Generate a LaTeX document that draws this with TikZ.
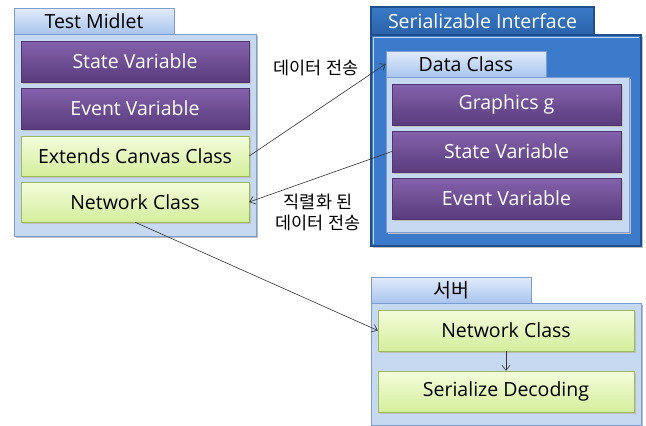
\documentclass[tikz,border=0pt]{standalone}
\usepackage{fontspec}
\setmainfont{Open Sans}
\newfontfamily\kr{Noto Sans CJK KR}
\usetikzlibrary{arrows.meta}
\definecolor{purpT}{HTML}{8462AC}
\definecolor{purpB}{HTML}{5A3B7C}
\definecolor{purpE}{HTML}{4E3470}
\definecolor{grnT}{HTML}{F4FCDC}
\definecolor{grnB}{HTML}{D4EE9C}
\definecolor{grnE}{HTML}{9CBB5C}
\definecolor{lbF}{HTML}{C6D9F1}
\definecolor{lbE}{HTML}{7C9DD0}
\definecolor{tabT}{HTML}{E2EBFA}
\definecolor{tabB}{HTML}{A9C5EE}
\definecolor{dbF}{HTML}{3C7BCB}
\definecolor{dbE}{HTML}{1F4E8C}
\definecolor{dtabT}{HTML}{3A7AC6}
\definecolor{dtabB}{HTML}{2A62AA}
\tikzset{
  x=1pt,y=-1pt,
  shadowed/.style={preaction={fill=black!25,transform canvas={xshift=1.5pt,yshift=-1.5pt}}},
  purplebox/.style={rectangle,shadowed,top color=purpT,bottom color=purpB,draw=purpE,line width=0.4pt,
    text=white,font=\fontsize{19.5}{22}\selectfont,inner sep=0pt},
  greenbox/.style={rectangle,shadowed,top color=grnT,bottom color=grnB,draw=grnE,line width=0.4pt,
    text=black,font=\fontsize{19.5}{22}\selectfont,inner sep=0pt},
  lightpanel/.style={rectangle,shadowed,fill=lbF,draw=lbE,line width=0.8pt,inner sep=0pt},
  lighttab/.style={rectangle,top color=tabT,bottom color=tabB,draw=lbE,line width=0.8pt,inner sep=0pt,
    text=black,font=\fontsize{19.5}{22}\selectfont},
  darkpanel/.style={rectangle,shadowed,fill=dbF,draw=dbE,line width=1.2pt,inner sep=0pt},
  darktab/.style={rectangle,top color=dtabT,bottom color=dtabB,draw=dbE,line width=1.2pt,inner sep=0pt,
    text=white,font=\fontsize{19.5}{22}\selectfont},
  conn/.style={draw=black!80,line width=0.6pt,-{Straight Barb[length=5pt,width=8pt]}},
  lbl/.style={font=\kr\fontsize{17.5}{21}\selectfont,align=center,inner sep=0pt}
}
\begin{document}
\begin{tikzpicture}
\useasboundingbox (0,0) rectangle (646,426);
% Test Midlet
\node[lightpanel,minimum width=242pt,minimum height=202pt] (tmp) at (135,135) {};
\node[lighttab,minimum width=160pt,minimum height=26pt] (tmt) at (94,21) {Test Midlet};
\node[purplebox,minimum width=228pt,minimum height=41pt] (tsv) at (135,61.5) {State Variable};
\node[purplebox,minimum width=228pt,minimum height=41pt] (tev) at (135,108.5) {Event Variable};
\node[greenbox,minimum width=228pt,minimum height=40pt] (tec) at (135,156) {Extends Canvas Class};
\node[greenbox,minimum width=228pt,minimum height=40pt] (tnc) at (135,202) {Network Class};
% Serializable Interface
\node[darkpanel,minimum width=270pt,minimum height=211pt] (sip) at (506,140.5) {};
\draw[white!70!dbF,line width=0.8pt] (373,244) -- (373,37) -- (639,37);
\node[darktab,minimum width=223pt,minimum height=28pt] (sit) at (482.5,21) {Serializable Interface};
\node[lightpanel,minimum width=243pt,minimum height=155pt] (dcp) at (507.5,154.5) {};
\node[lighttab,minimum width=160pt,minimum height=26pt] (dct) at (466,64) {Data Class};
\node[purplebox,minimum width=229pt,minimum height=41pt] (dgg) at (506.5,104.5) {Graphics g};
\node[purplebox,minimum width=229pt,minimum height=41pt] (dsv) at (506.5,151.5) {State Variable};
\node[purplebox,minimum width=229pt,minimum height=41pt] (dev) at (506.5,198.5) {Event Variable};
% Server
\node[lightpanel,minimum width=270pt,minimum height=122pt] (svp) at (506,364) {};
\node[lighttab,minimum width=160pt,minimum height=26pt] (svt) at (451,290) {\kr 서버};
\node[greenbox,minimum width=256pt,minimum height=41pt] (snc) at (506,330.5) {Network Class};
\node[greenbox,minimum width=256pt,minimum height=41pt] (ssd) at (506,391.5) {Serialize Decoding};
% connectors
\draw[conn] (tec.east) -- (dct.west);
\draw[conn] (dsv.west) -- (tnc.east);
\draw[conn] (tnc.south) -- (snc.west);
\draw[conn] (snc.south) -- (ssd.north);
\node[lbl] (l1) at (316,68) {데이터 전송};
\node[lbl] (l2) at (318,212) {직렬화 된\\데이터 전송};
\end{tikzpicture}
\end{document}
